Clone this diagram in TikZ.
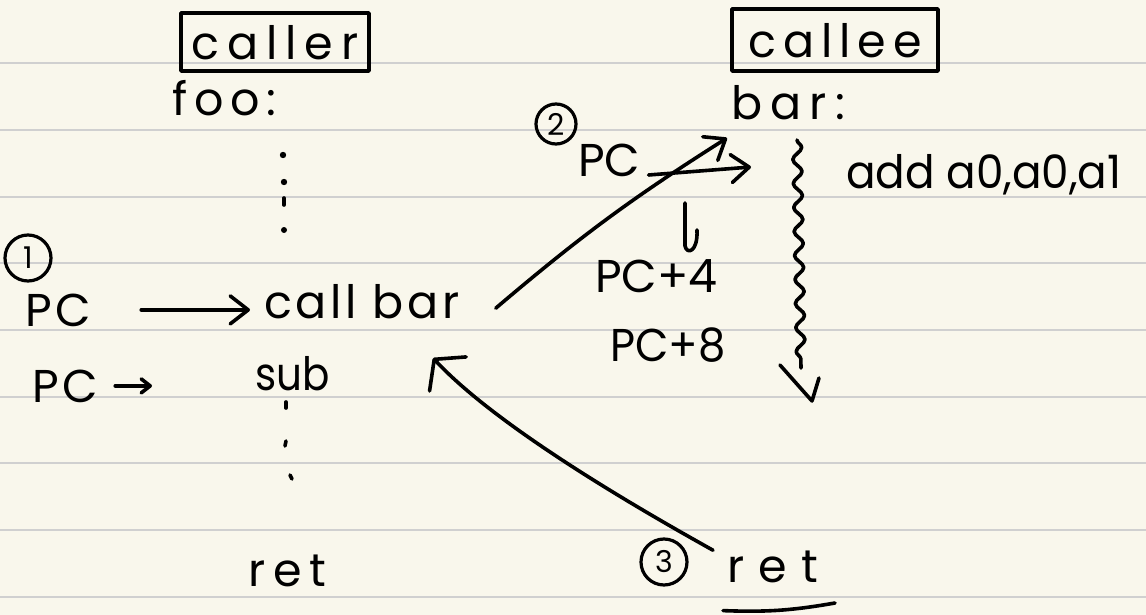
\documentclass[tikz,border=0pt]{standalone}
\usepackage{fontspec}
\setmainfont{Poppins}
\usetikzlibrary{arrows.meta,decorations.pathmorphing,calc}
\definecolor{paper}{RGB}{249,247,236}
\definecolor{ruling}{RGB}{208,208,208}
\begin{document}
\begin{tikzpicture}[x=1pt,y=-1pt,
  ink/.style={line width=3.6pt,line cap=round,line join=round},
  txt/.style={anchor=base west,inner sep=0pt,
    font=\fontsize{46}{50}\selectfont\addfontfeature{LetterSpace=#1}},
  txt/.default=8,
  boxed/.style={ink,draw,inner sep=0pt,text depth=0pt,
    font=\fontsize{46}{50}\selectfont\addfontfeature{LetterSpace=#1}},
  num/.style={draw,circle,line width=3.2pt,inner sep=0pt,font=\fontsize{30}{32}\selectfont},
  harrow/.style={ink,-{Straight Barb[round,length=18pt,width=28pt]}},
  smallarrow/.style={ink,-{Straight Barb[round,length=9pt,width=14pt]}},
  backarrow/.style={ink,-{Straight Barb[round,length=20pt,width=50pt]}}
]
% paper and ruling
\fill[paper] (0,0) rectangle (1146,615);
\useasboundingbox (0,0) rectangle (1146,615);
\foreach \ry in {63,130,197,263,330,397,463,530,597}
  \draw[ruling,line width=2.6pt] (0,\ry) -- (1146,\ry);

% headings
\node[boxed=17,minimum width=188pt,minimum height=58pt] (caller) at (275,42) {caller};
\node[boxed=15,minimum width=206pt,minimum height=62pt] (callee) at (835,40) {callee};

% caller side
\node[txt=15] (foo) at (172,116) {foo:};
\node[num,minimum size=46pt] (one) at (28,258) {1};
\node[txt] (pc1) at (25,326) {PC};
\node[txt] (callbar) at (264,318) {call bar};
\node[txt] (pc2) at (32,402) {PC};
\node[txt=0] (sub) at (255,390) {\scalebox{0.88}[1]{sub}};
\node[txt=17] (ret1) at (248,586) {ret};

% dotted continuation of foo
\fill (283,155) circle (3.2pt);
\fill (284,182) circle (3.2pt);
\draw[ink] (284,198) -- (284,205);
\fill (284,230) circle (3pt);
\draw[ink] (286,402) -- (286,408);
\draw[ink] (286,441) -- (285,446);
\draw[ink] (290,475) -- (292,479);

% callee side
\node[txt=18] (bar) at (731,120) {bar:};
\node[num,minimum size=40pt] (two) at (556,124) {2};
\node[txt=0] (pc3) at (578,176) {PC};
\node[txt=0] (addins) at (846,188) {\scalebox{0.95}[1]{add a0,a0,a1}};
\node[txt=0] (pc4) at (595,292) {PC+4};
\node[txt=0] (pc8) at (610,361) {\scalebox{0.94}[1]{PC+8}};
\node[num,minimum size=46pt] (three) at (664,562) {3};
\node[txt=31] (ret2) at (727,582) {ret};

% body of bar
\coordinate (wavetop) at (797,140);
\coordinate (wavebot) at (801,368);
\coordinate (bartip) at (727,138);
\coordinate (pcin) at (751,167);
\coordinate (retaddr) at (433,358);
\draw[ink,decorate,decoration={snake,amplitude=4.5pt,segment length=24pt}] (wavetop) -- (wavebot);
\draw[ink] (780,365) -- (812,401) -- (819,378);

% PC stepping
\draw[ink] (685,203) -- (685,246) .. controls (687,255) and (698,252) .. (697,230);

% connectors
\draw[harrow,shorten <=50pt,shorten >=14pt] (pc1.east) -- (pc1.east -| callbar.west);
\draw[smallarrow,shorten <=17pt,shorten >=103pt] (pc2.east) -- (pc2.east -| sub.west);
\draw[harrow] ($(callbar.east)+(36,7)$) to[bend left=4] (bartip);
\draw[harrow] ($(pc3.base east)+(8,-1)$) -- (pcin);
\draw[backarrow] ($(ret2.north west)+(-14,0)$) .. controls (650,515) and (500,430) .. (retaddr);
\draw[ink] ($(ret2.south west)+(-4,28)$) to[bend right=6] (835,603);
\end{tikzpicture}
\end{document}
